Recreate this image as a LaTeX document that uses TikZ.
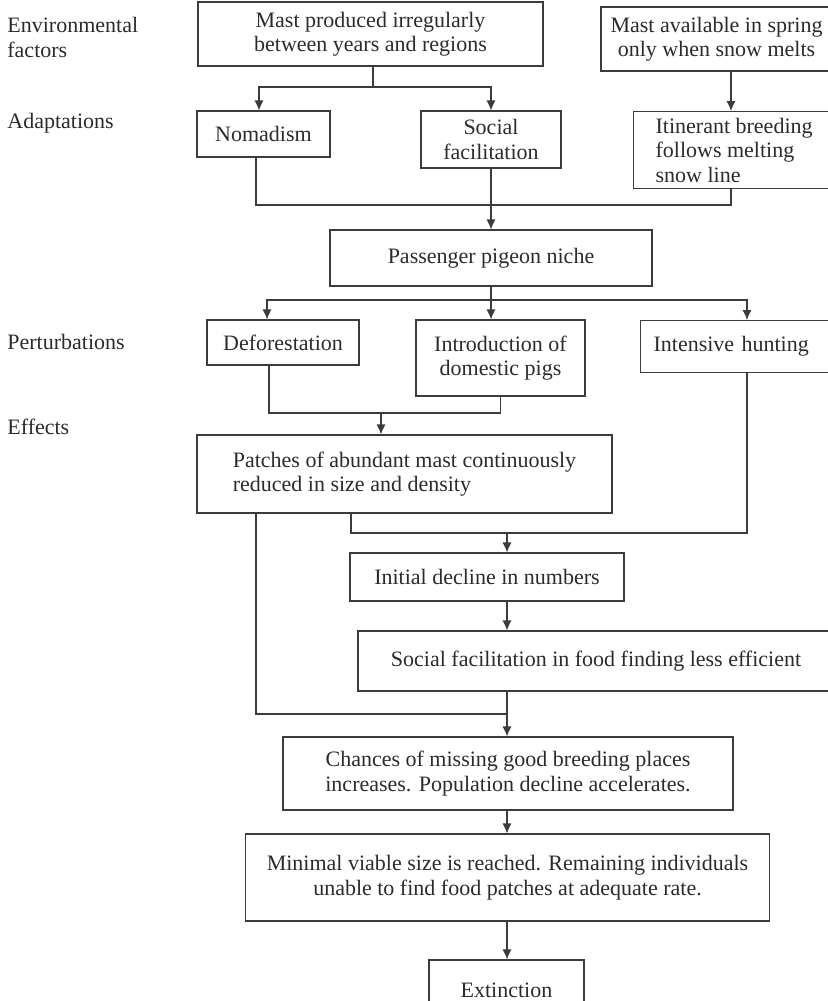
\documentclass[tikz,border=0pt]{standalone}
\usepackage{fontspec}
\setmainfont{Liberation Serif}
\usetikzlibrary{arrows.meta}
\definecolor{inkgray}{HTML}{2B2B2B}
\definecolor{rulegray}{HTML}{3C3C3C}

\begin{document}
\begin{tikzpicture}[x=0.5pt, y=-0.5pt,
    box/.style={draw=rulegray, line width=0.6pt, inner sep=0pt, align=center,
      text=inkgray, font=\fontsize{11}{12.25}\selectfont},
    lbl/.style={inner sep=0pt, align=left, text=inkgray,
      font=\fontsize{11}{12.25}\selectfont},
    link/.style={draw=rulegray, line width=0.6pt},
    arr/.style={link, -{Latex[length=5pt, width=4.6pt]}}]
  \useasboundingbox (0,0) rectangle (828,1001);
  \clip (0,0) rectangle (828,1001);
  % row labels
  \node[lbl, anchor=base west] (envlbl) at (7,57) {Environmental\\factors};
  \node[lbl, anchor=base west] (adlbl) at (7,128) {Adaptations};
  \node[lbl, anchor=base west] (perlbl) at (7,349) {Perturbations};
  \node[lbl, anchor=base west] (efflbl) at (7,434) {Effects};
  % boxes
  \node[box, minimum width=172.5pt, minimum height=32pt] (mast1) at (370.5,34)
    {Mast produced irregularly\\between years and regions};
  \node[box, minimum width=115.5pt, minimum height=32pt] (mast2) at (716.5,39)
    {Mast available in spring\\only when snow melts};
  \node[box, anchor=north west, align=left, inner xsep=11pt, minimum height=38.5pt] (itin) at (633,111)
    {Itinerant breeding\\follows melting\\snow line};
  \node[box, minimum width=66.5pt, minimum height=23pt] (nomad) at (263.5,134) {Nomadism};
  \node[box, minimum width=70pt, minimum height=28.5pt] (socfac) at (491,139.5)
    {Social\\facilitation};
  \node[box, minimum width=161pt, minimum height=28pt] (niche) at (491,258)
    {Passenger pigeon niche};
  \node[box, minimum width=76pt, minimum height=22.5pt] (defo) at (283,342.5) {Deforestation};
  \node[box, minimum width=84.5pt, minimum height=38pt] (pigs) at (500.5,358)
    {Introduction of\\domestic pigs};
  \node[box, anchor=north west, align=left, inner xsep=6.5pt, text width=92pt,
    minimum height=26pt] (hunt) at (640,320) {Intensive hunting};
  \node[box, align=left, minimum width=207.5pt, minimum height=39pt] (patch) at (404.5,474)
    {Patches of abundant mast continuously\\reduced in size and density};
  \node[box, minimum width=137pt, minimum height=24pt] (decl) at (487,577)
    {Initial decline in numbers};
  \node[box, minimum width=238pt, minimum height=30pt] (socfac2) at (596,661)
    {Social facilitation in food finding less efficient};
  \node[box, minimum width=225pt, minimum height=36.5pt] (chance) at (508,773.5)
    {Chances of missing good breeding places\\increases. Population decline accelerates.};
  \node[box, minimum width=262pt, minimum height=43.5pt] (minv) at (507.5,877.5)
    {Minimal viable size is reached. Remaining individuals\\unable to find food patches at adequate rate.};
  \node[box, minimum width=77.5pt, minimum height=30pt] (extinct) at (506.5,990) {Extinction};
  % junction points
  \coordinate (j1) at (373,87);
  \coordinate (j2) at (491,205);
  \coordinate (j3) at (491,300);
  \coordinate (j4) at (381,413);
  \coordinate (j5) at (507,533);
  \coordinate (j6) at (507,714);
  \coordinate (kx) at (731,0);
  % connectors
  \draw[link] (mast1.south -| j1) -- (j1);
  \draw[arr] (j1) -| ([xshift=-2.25pt]nomad.north);
  \draw[arr] (j1) -| (socfac.north);
  \draw[arr] (mast2.south -| kx) -- (itin.north -| kx);
  \draw[link] ([xshift=-3.75pt]nomad.south) |- (j2) -| (itin.south -| kx);
  \draw[arr] (socfac.south) -- (niche.north);
  \draw[link] (niche.south) -- (j3);
  \draw[arr] (j3) -| ([xshift=-8pt]defo.north);
  \draw[arr] (j3) -| ([xshift=-4.75pt]pigs.north);
  \draw[arr] (j3) -| (hunt.north -| 747,0);
  \draw[link] ([xshift=-7pt]defo.south) |- (j4) -| (pigs.south);
  \draw[arr] (j4) -- (patch.north -| j4);
  \draw[link] (hunt.south -| 747,0) |- (j5) -| (patch.south -| 351,0);
  \draw[arr] (j5) -- (decl.north -| j5);
  \draw[arr] (decl.south -| j5) -- (socfac2.north -| j5);
  \draw[link] (patch.south -| 256,0) |- (j6);
  \draw[arr] (socfac2.south -| j6) -- (chance.north -| j6);
  \draw[arr] (chance.south -| j6) -- (minv.north -| j6);
  \draw[arr] (minv.south -| j6) -- (extinct.north -| j6);
\end{tikzpicture}
\end{document}
